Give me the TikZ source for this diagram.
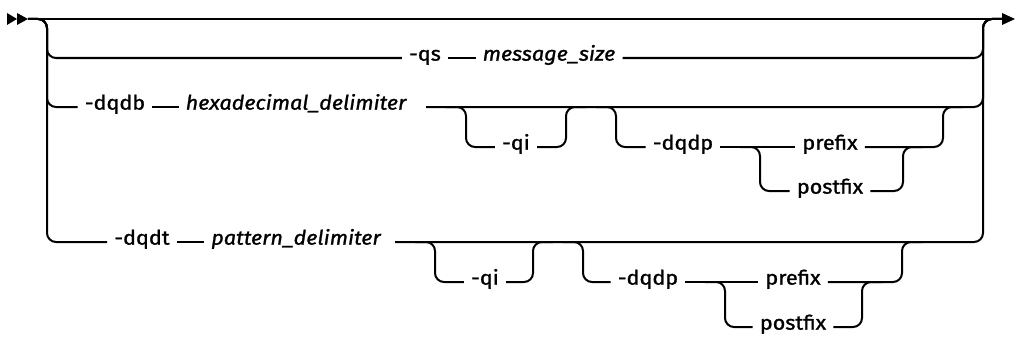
\documentclass[tikz,border=0pt]{standalone}
\usepackage{fontspec}
\setmainfont{Fira Sans}[FakeStretch=1.08,FakeBold=1.2]
\usepackage{tikz}
\usetikzlibrary{calc,positioning}
\tikzset{
  rail/.style={line width=2pt,rounded corners=9pt},
  kw/.style={font=\fontsize{20}{24}\selectfont,inner xsep=7pt,inner ysep=2pt,anchor=mid},
  var/.style={kw,font=\fontsize{20}{24}\selectfont\itshape},
}
\begin{document}
\begin{tikzpicture}[x=1pt,y=-1pt]
\useasboundingbox (0,0) rectangle (1016,345);
% rails and ends
\coordinate (s) at (28,19); \coordinate (e) at (1002,19);
\coordinate (lr) at (47,19); \coordinate (rr) at (983,19);
\fill (7,13) -- (17,19) -- (7,25) -- cycle; \fill (17,13) -- (28,19) -- (17,25) -- cycle;
\fill (1002,13) -- (1015,19) -- (1002,25) -- cycle;
\draw[rail] (s) -- (e);
% -qs row
\node[kw] (qs) at (425,58) {-qs};
\node[var] (msz) at (549,58) {message\_size};
\draw[rail] (s) -- (lr) -- (lr |- qs.mid) -- (qs.mid west);
\draw[rail] (qs.mid east) -- (msz.mid west);
\draw[rail] (msz.mid east) -- (rr |- msz.mid) -- (rr) -- (e);
% -dqdb row
\node[kw] (dqdb) at (115,107) {-dqdb};
\node[var] (hexd) at (296,107) {hexadecimal\_delimiter};
\coordinate (h2s) at (426,107);
\draw[rail] (s) -- (lr) -- (lr |- dqdb.mid) -- (dqdb.mid west);
\draw[rail] (dqdb.mid east) -- (hexd.mid west);
\draw[rail] (h2s) -- (rr |- h2s) -- (rr) -- (e);
\coordinate (q1a) at (466,107); \coordinate (q1b) at (566,107);
\node[kw] (qi1) at (516,147) {-qi};
\draw[rail] ([xshift=-20pt]q1a) -- (q1a) -- (q1a |- qi1.mid) -- (qi1.mid west);
\draw[rail] (qi1.mid east) -- (q1b |- qi1.mid) -- (q1b) -- ([xshift=20pt]q1b);
\coordinate (d1a) at (616,107); \coordinate (d1b) at (943,107);
\coordinate (p1a) at (760,147); \coordinate (p1b) at (903,147);
\node[kw] (dp1) at (683,147) {-dqdp};
\node[kw] (pre1) at (830,147) {prefix};
\node[kw] (post1) at (830,191) {postfix};
\draw[rail] ([xshift=-20pt]d1a) -- (d1a) -- (d1a |- dp1.mid) -- (dp1.mid west);
\draw[rail] (dp1.mid east) -- (pre1.mid west);
\draw[rail] (pre1.mid east) -- (d1b |- pre1.mid) -- (d1b) -- ([xshift=20pt]d1b);
\draw[rail] ([xshift=-20pt]p1a) -- (p1a) -- (p1a |- post1.mid) -- (post1.mid west);
\draw[rail] (post1.mid east) -- (p1b |- post1.mid) -- (p1b) -- ([xshift=20pt]p1b);
% -dqdt row
\node[kw] (dqdt) at (142,242) {-dqdt};
\node[var] (patd) at (296,242) {pattern\_delimiter};
\coordinate (h4s) at (395,242);
\draw[rail] (s) -- (lr) -- (lr |- dqdt.mid) -- (dqdt.mid west);
\draw[rail] (dqdt.mid east) -- (patd.mid west);
\draw[rail] (h4s) -- (rr |- h4s) -- (rr) -- (e);
\coordinate (q2a) at (435,242); \coordinate (q2b) at (533,242);
\node[kw] (qi2) at (485,282) {-qi};
\draw[rail] ([xshift=-20pt]q2a) -- (q2a) -- (q2a |- qi2.mid) -- (qi2.mid west);
\draw[rail] (qi2.mid east) -- (q2b |- qi2.mid) -- (q2b) -- ([xshift=20pt]q2b);
\coordinate (d2a) at (583,242); \coordinate (d2b) at (902,242);
\coordinate (p2a) at (725,282); \coordinate (p2b) at (862,282);
\node[kw] (dp2) at (648,282) {-dqdp};
\node[kw] (pre2) at (793,282) {prefix};
\node[kw] (post2) at (793,327) {postfix};
\draw[rail] ([xshift=-20pt]d2a) -- (d2a) -- (d2a |- dp2.mid) -- (dp2.mid west);
\draw[rail] (dp2.mid east) -- (pre2.mid west);
\draw[rail] (pre2.mid east) -- (d2b |- pre2.mid) -- (d2b) -- ([xshift=20pt]d2b);
\draw[rail] ([xshift=-20pt]p2a) -- (p2a) -- (p2a |- post2.mid) -- (post2.mid west);
\draw[rail] (post2.mid east) -- (p2b |- post2.mid) -- (p2b) -- ([xshift=20pt]p2b);
\end{tikzpicture}
\end{document}
